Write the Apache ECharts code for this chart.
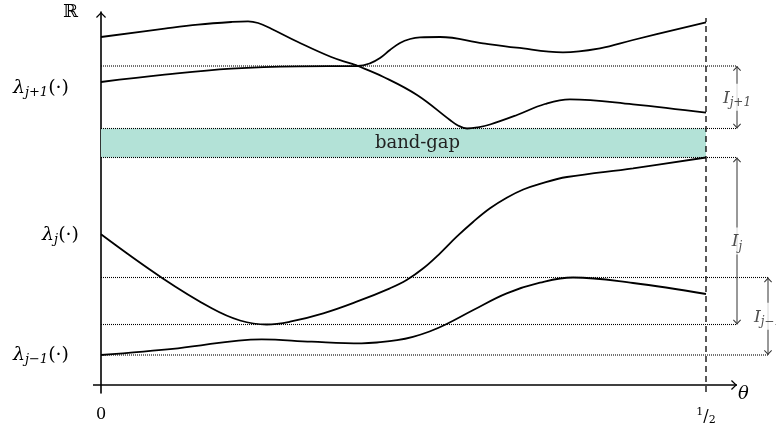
<!DOCTYPE html>
<html><head><meta charset="utf-8">
<script src="https://cdn.jsdelivr.net/npm/echarts@6/dist/echarts.min.js"></script>
<style>html,body{margin:0;padding:0;background:#fff}#c{width:776px;height:425px}</style>
</head><body><div id="c"></div>
<script>
// ---- data (θ, energy) ----
const upperBranchA = [[0,348],[0.0526,356.3],[0.0802,360.3],[0.1077,363],[0.1215,363.7],[0.1298,362],[0.1407,356.3],[0.1628,343],[0.1903,328],[0.2069,321.3],[0.2124,319],[0.2331,308.3],[0.2612,290],[0.2884,265],[0.295,259.5],[0.3025,256.5],[0.3116,257.7],[0.3215,260.5],[0.3438,270],[0.3669,281],[0.3876,285.7],[0.4397,280.7],[0.5,272.3]];
const upperBranchB = [[0,303],[0.0526,310.3],[0.1077,316.3],[0.1628,318.7],[0.2124,319],[0.2223,321.7],[0.2306,327],[0.2388,335],[0.2471,342],[0.2554,346],[0.2636,347.7],[0.2802,348],[0.3157,341.7],[0.3435,337.3],[0.3818,332.7],[0.4124,336.7],[0.4397,345],[0.5,362.7]];
const lambdaJ = [[0,150.7],[0.0502,107.3],[0.0915,76.7],[0.1149,64.5],[0.1369,60.5],[0.1562,63.3],[0.1837,71.7],[0.2113,83.3],[0.2388,96.7],[0.2526,105],[0.2664,116.7],[0.2802,131.7],[0.294,148.3],[0.3077,163.3],[0.3215,176.7],[0.3353,187.3],[0.349,195.5],[0.3628,201.2],[0.3851,208],[0.4397,216.7],[0.5,227.5]];
const lambdaJm1 = [[0,30],[0.0636,36.7],[0.1328,45.7],[0.1741,43.3],[0.2154,41.7],[0.2306,42.8],[0.2447,44.8],[0.2578,48.2],[0.2715,53.5],[0.2857,61],[0.3077,75],[0.3353,91.7],[0.3628,102.3],[0.3901,107.5],[0.4397,102],[0.5,91]];
const bandGap = [227.5, 256.5];
const levels = [319, 256.5, 227.5, 107.5, 60.5, 30];
const intervals = [
  {name:'j+1', lo:256.5, hi:319},
  {name:'j', lo:60.5, hi:227.5},
  {name:'j−1', lo:30, hi:107.5}
];
const yTickValues = [30, 150, 297];
const yTickNames = {30:'j−1', 150:'j', 297:'j+1'};
const xTickValues = [0, 0.5];

// ---- layout constants ----
const PX = 1210;                 // pixels per unit of θ
const X_MIN = -8/PX, X_AXIS_END = 636/PX, X_FAR = 667/PX, X_MAX = 675/PX;
const levelEnd = [X_AXIS_END, X_AXIS_END, X_AXIS_END, X_FAR, X_AXIS_END, X_FAR];
const intervalX = [X_AXIS_END, X_AXIS_END, X_FAR];
const FONT = 'DejaVu Serif';
const CHEV = 'path://M5,0 L10,5.1 L9.1,6 L5,1.8 L0.9,6 L0,5.1 Z';

const chart = echarts.init(document.getElementById('c'));
const curve = (d) => ({type:'line', data:d, smooth:0.4, symbol:'none', clip:false, z:5,
  lineStyle:{color:'#000', width:1.8}});

const series = [];
series.push(Object.assign(curve(upperBranchA), {
  markArea:{silent:true, itemStyle:{color:'#b3e2d7'},
    label:{show:true, position:'inside', offset:[14,0], formatter:'band-gap', fontFamily:FONT, fontSize:18, color:'#222'},
    data:[[{coord:[0,bandGap[0]]},{coord:[0.5,bandGap[1]]}]]}
}));
series.push(curve(upperBranchB));
series.push(curve(lambdaJ));
series.push(curve(lambdaJm1));
levels.forEach((lv,i)=>series.push({type:'line', data:[[0,lv],[levelEnd[i],lv]], symbol:'none', clip:false, silent:true, z:3,
  lineStyle:{type:[1,1], width:1.1, color:'#000'}}));
series.push({type:'line', data:[[0.5,-7],[0.5,367]], symbol:'none', clip:false, z:4,
  lineStyle:{type:[6,4], width:1.3, color:'#000'}});
// x axis drawn as a line with an arrow head
series.push({type:'line', clip:false, z:7, symbolSize:[10,6], showSymbol:true,
  lineStyle:{width:1.6, color:'#000'}, itemStyle:{color:'#000', borderWidth:0},
  data:[{value:[X_MIN,0], symbol:'none'},
        {value:[X_AXIS_END,0], symbol:CHEV, symbolRotate:-90, symbolOffset:[-3,0],
         label:{show:true, position:'right', distance:1, offset:[0,9], formatter:'θ',
                fontFamily:FONT, fontStyle:'italic', fontSize:18, color:'#000'}}]});
intervals.forEach((it,i)=>{
  series.push({type:'line', clip:false, z:6, symbolSize:[8,5], showSymbol:true,
    lineStyle:{width:1, color:'#333'}, itemStyle:{color:'#333', borderWidth:0},
    data:[{value:[intervalX[i], it.hi], symbol:CHEV, symbolRotate:0, symbolOffset:[0,'50%']},
          {value:[intervalX[i], it.lo], symbol:CHEV, symbolRotate:180, symbolOffset:[0,'-50%']}]});
});
series.push({type:'scatter', clip:false, z:10, symbol:'circle', symbolSize:0.1, itemStyle:{color:'rgba(0,0,0,0)'},
  data: intervals.map((it,i)=>({value:[intervalX[i], (it.lo+it.hi)/2], name:it.name})),
  label:{show:true, position:'inside', backgroundColor:'#fff', padding:[4,1,2,1],
    formatter:(p)=>'{i|I}{s|'+p.name+'}',
    rich:{i:{fontFamily:FONT, fontStyle:'italic', fontSize:17, color:'#222'},
          s:{fontFamily:FONT, fontStyle:'italic', fontSize:12, color:'#222', padding:[9,0,0,0]}}}
});

const richLam = {
  l:{fontFamily:FONT, fontStyle:'italic', fontSize:19, color:'#000'},
  p:{fontFamily:FONT, fontSize:19, color:'#000'},
  s:{fontFamily:FONT, fontStyle:'italic', fontSize:13, color:'#000', padding:[10,0,0,0]},
  gap:{width:10}
};

chart.setOption({
  animation:false,
  grid:{left:93, right:0, top:12, bottom:32, outerBoundsMode:'none', containLabel:false},
  xAxis:{type:'value', min:X_MIN, max:X_MAX,
    axisLine:{show:false, onZero:true},
    axisTick:{show:false}, splitLine:{show:false},
    axisLabel:{customValues:xTickValues, margin:14,
      formatter:(v)=> v===0 ? '{n|0}' : '{a|1}{n|/}{b|2}',
      rich:{n:{fontFamily:FONT, fontSize:16, color:'#000'},
            a:{fontFamily:FONT, fontSize:11, color:'#000', padding:[0,0,8,0]},
            b:{fontFamily:FONT, fontSize:11, color:'#000', padding:[8,0,0,0]}}}
  },
  yAxis:{type:'value', min:-8, max:373,
    axisLine:{onZero:true, lineStyle:{color:'#000', width:1.6}, symbol:['none', CHEV], symbolSize:[10,6], symbolOffset:[0,-3]},
    axisTick:{show:false}, splitLine:{show:false},
    axisLabel:{customValues:yTickValues, margin:14,
      formatter:(v)=> '{l|λ}{s|'+yTickNames[v]+'}{p|(·)}' + (v===150 ? '' : '{gap|}'),
      rich:richLam},
    name:'ℝ', nameLocation:'end', nameGap:0,
    nameTextStyle:{fontFamily:FONT, fontSize:18, color:'#000', align:'right', verticalAlign:'middle', padding:[12,23,0,0]}
  },
  series:series
});
</script></body></html>
